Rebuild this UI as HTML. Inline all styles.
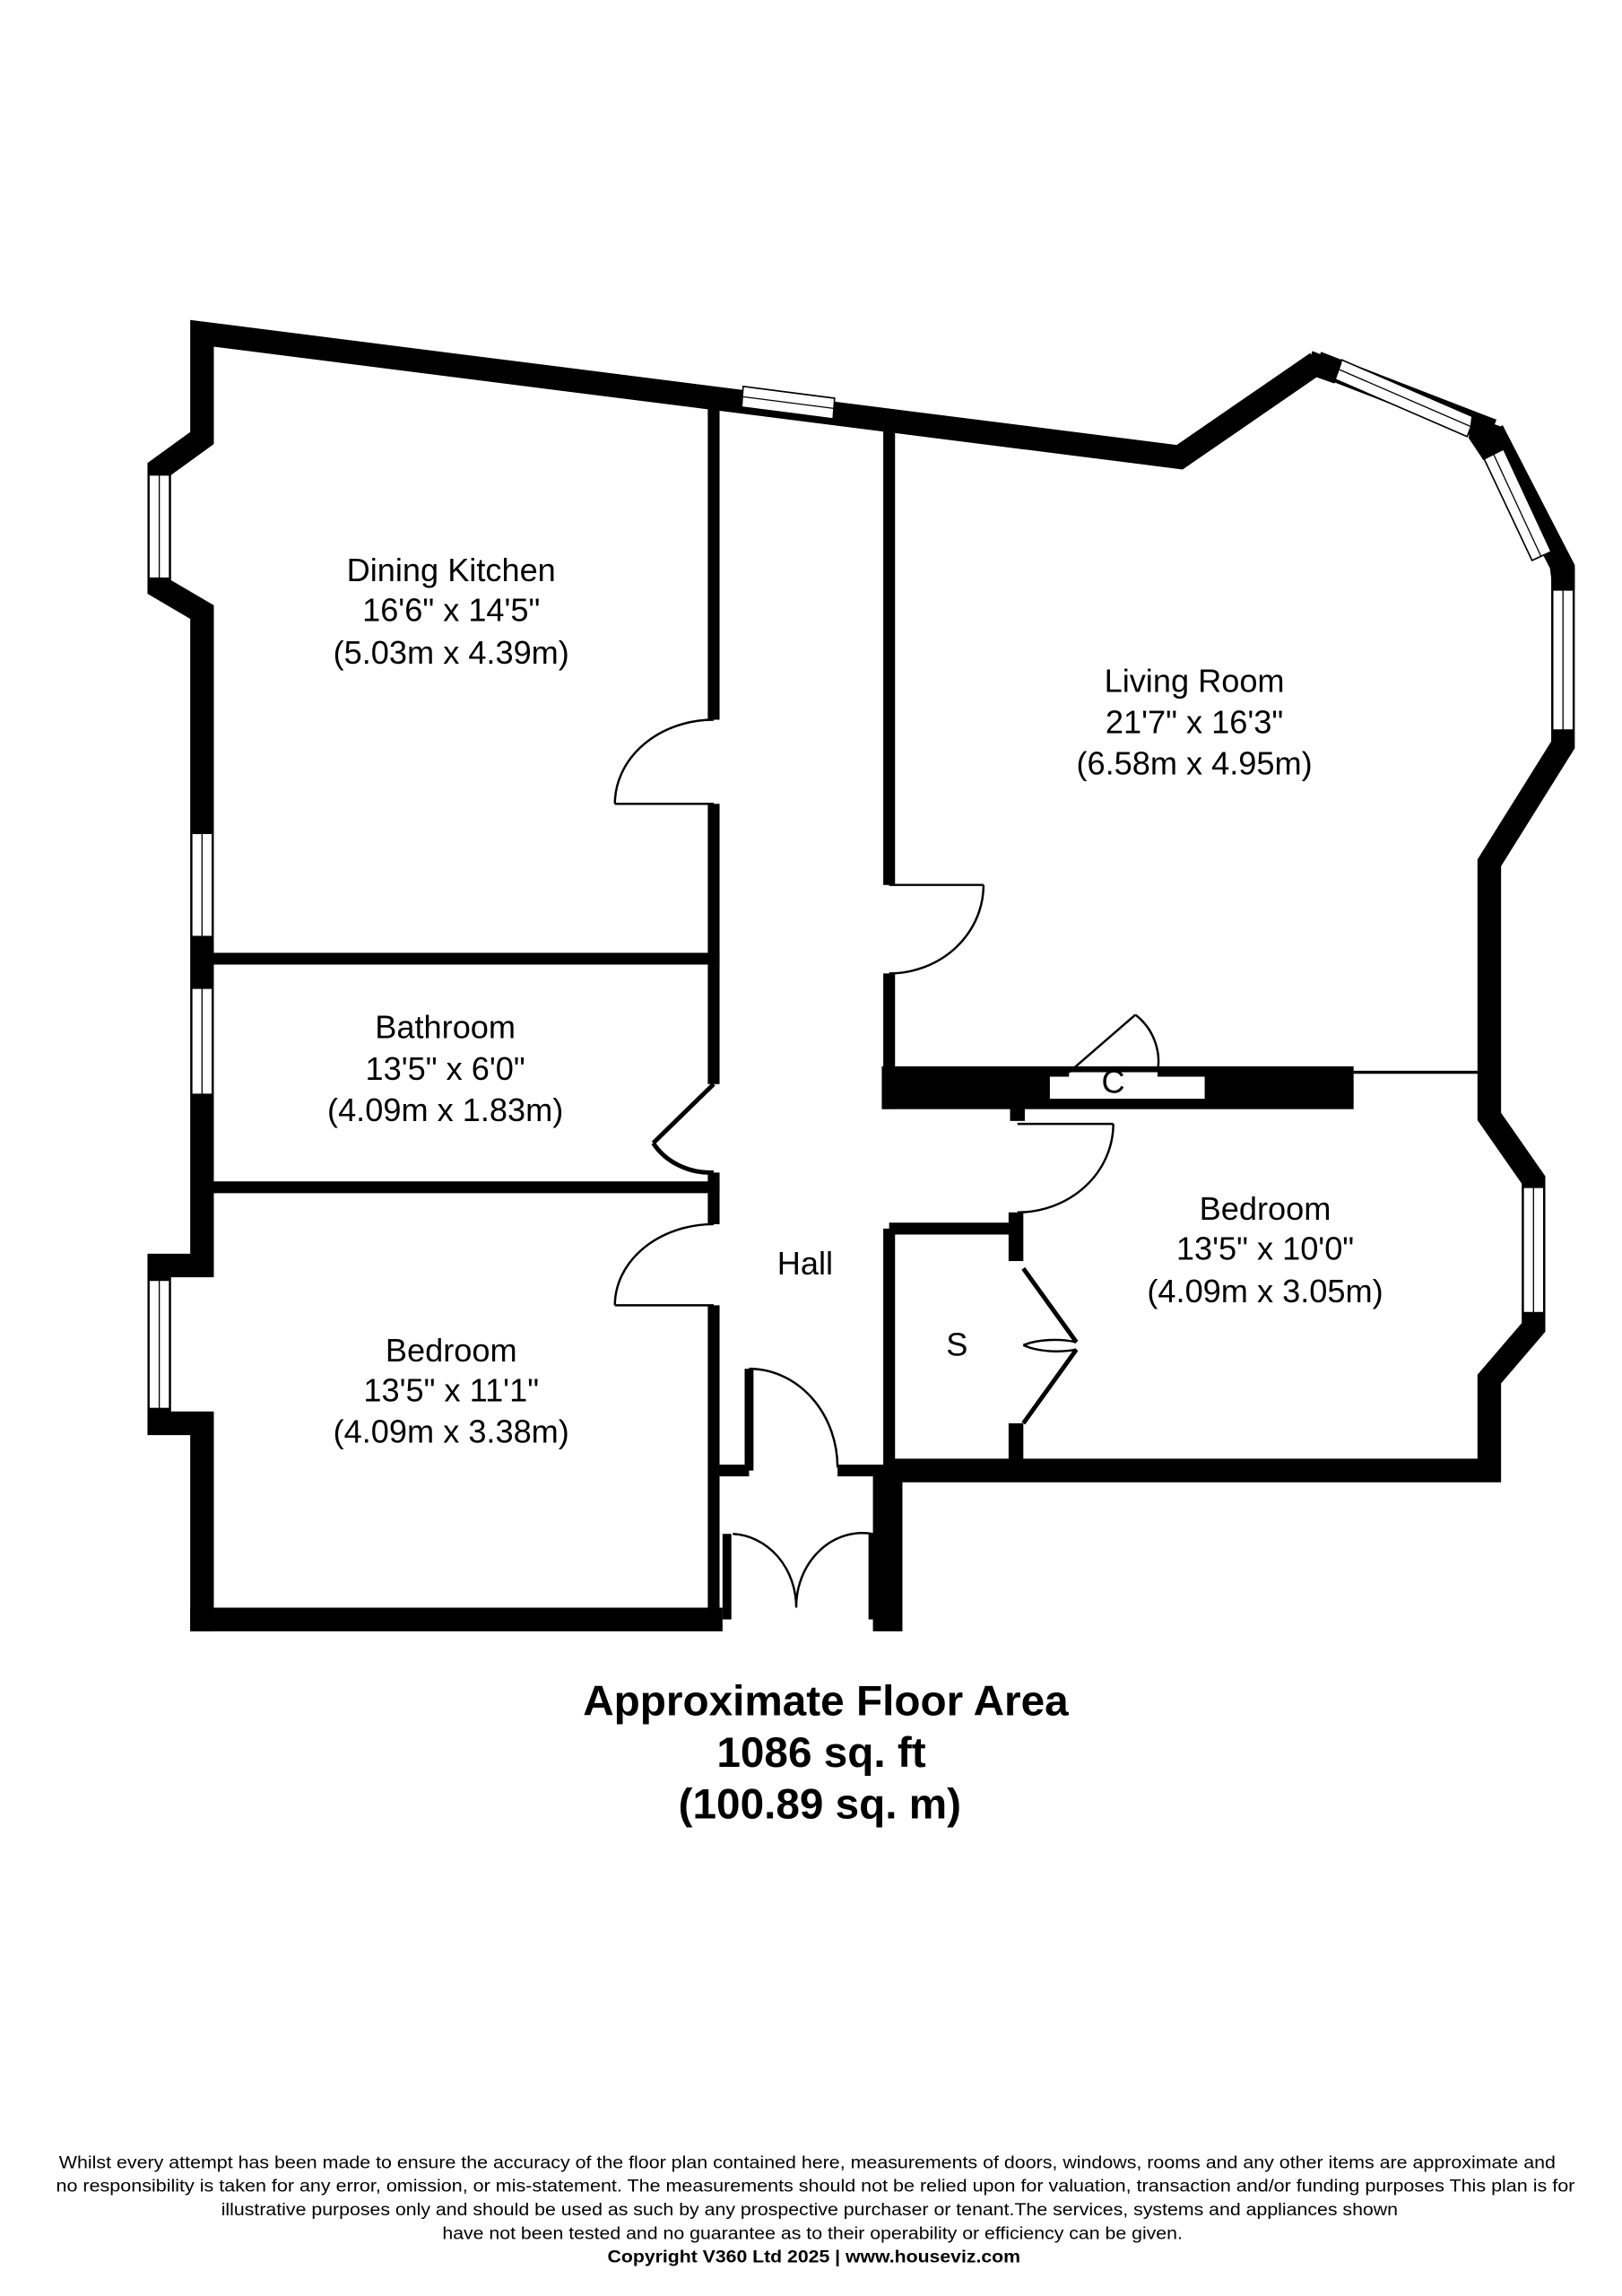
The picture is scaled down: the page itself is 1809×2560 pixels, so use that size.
<!DOCTYPE html>
<html><head><meta charset="utf-8"><style>
html,body{margin:0;padding:0;background:#fff}
svg{display:block}
text{font-family:"Liberation Sans",Arial,sans-serif;fill:#000}
</style></head><body>
<svg width="1809" height="2560" viewBox="0 0 1100 1556.7" xmlns="http://www.w3.org/2000/svg">
<g fill="none" stroke="#000" stroke-linejoin="miter" stroke-linecap="butt">
<polyline stroke-width="16" points="137,1106 137,965 108,965 108,858 137,858 137,415 108,398 108,318 137,297 137,226 800,310 893,246"/>
<polyline stroke-width="16" points="1012,292 1060,385 1060,505 1010,585 1010,757 1040,800 1040,900 1010,935 1010,997 600,997"/>
<line stroke-width="16" x1="129" y1="1098" x2="490" y2="1098"/>
<line stroke-width="20" x1="602" y1="1000" x2="602" y2="1106"/>
<polyline stroke-width="16" points="893,246 1012,292"/>
</g>
<g fill="#fff" stroke="#000" stroke-width="1">
<polygon points="504,262 566,270 565,284 503,276"/>
<rect x="101" y="322" width="14" height="70"/>
<rect x="130" y="565" width="14" height="70"/>
<rect x="130" y="670" width="14" height="72"/>
<rect x="101" y="868" width="14" height="87"/>
<rect x="1053" y="400" width="14" height="95"/>
<rect x="1033" y="805" width="14" height="85"/>
<polygon points="910,244 1000,283 995,296 905,257"/>
<polygon points="1019,303 1052,374 1039,380 1006,310"/>
</g>
<g stroke="#000" stroke-width="0.8">
<line x1="108" y1="322" x2="108" y2="392"/><line x1="137" y1="565" x2="137" y2="635"/><line x1="137" y1="670" x2="137" y2="742"/><line x1="108" y1="868" x2="108" y2="955"/><line x1="1060" y1="400" x2="1060" y2="495"/><line x1="1040" y1="805" x2="1040" y2="890"/><line x1="504" y1="269" x2="566" y2="277"/><line x1="907" y1="250" x2="997" y2="289"/><line x1="1012" y1="306" x2="1045" y2="377"/>
</g>
<g fill="#000">
<polygon points="890,238 910,246 905,260 885,253"/>
<polygon points="998,282 1020,290 1024,303 1006,312 996,297"/>
<polygon points="1050,376 1068,385 1068,400 1053,400"/>
</g>
<g stroke="#000" fill="none" stroke-linecap="butt">
<line stroke-width="8" x1="484" y1="276" x2="484" y2="488"/>
<line stroke-width="8" x1="484" y1="545" x2="484" y2="735"/>
<line stroke-width="8" x1="484" y1="795" x2="484" y2="830"/>
<line stroke-width="8" x1="484" y1="885" x2="484" y2="1098"/>
<line stroke-width="8" x1="137" y1="650" x2="488" y2="650"/>
<line stroke-width="8" x1="137" y1="805" x2="488" y2="805"/>
<line stroke-width="8" x1="603" y1="292" x2="603" y2="600"/>
<line stroke-width="8" x1="603" y1="660" x2="603" y2="752"/>
<line stroke-width="2" x1="918" y1="727" x2="1005" y2="727"/>
<line stroke-width="8" x1="603" y1="833" x2="603" y2="997"/>
<line stroke-width="8" x1="603" y1="833" x2="692" y2="833"/>
<line stroke-width="8" x1="484" y1="997" x2="508" y2="997"/>
<line stroke-width="8" x1="568" y1="997" x2="603" y2="997"/>
<line stroke-width="6" x1="508" y1="928" x2="508" y2="997"/>
<line stroke-width="6" x1="493" y1="1040" x2="493" y2="1098"/>
<line stroke-width="6" x1="592" y1="1040" x2="592" y2="1098"/>
</g>
<g fill="#000">
<rect x="598" y="723" width="320" height="29"/>
<rect x="685" y="750" width="10" height="10"/>
<rect x="684" y="822" width="10" height="33"/>
<rect x="684" y="965" width="10" height="32"/>
</g>
<polygon fill="#fff" points="712,730 725,730 725,727 785,727 785,730 817,730 817,745 712,745"/>
<g stroke="#000" fill="none" stroke-width="1.5">
<path d="M417,545 L484,545 M417,545 A67,57 0 0 1 484,488"/>
<path d="M484,735 L443,775 M443,775 A45,40 0 0 0 484,795" stroke-width="3"/>
<path d="M417,885 L484,885 M417,885 A67,55 0 0 1 484,830"/>
<path d="M603,600 L667,600 M667,600 A64,60 0 0 1 603,660"/>
<path d="M725,727 L770,688 M770,688 A40,40 0 0 1 785,727" />
<path d="M690,762 L755,762 M755,762 A65,60 0 0 1 690,822"/>
<path d="M508,928 A60,67 0 0 1 568,995"/>
<path d="M497,1040 A45,50 0 0 1 540,1090 M592,1040 A45,50 0 0 0 540,1090"/>
<path d="M694,860 L730,910 M694,965 L730,915" stroke-width="3"/>
<path d="M694,912 A30,12 0 0 1 730,910 M694,912 A30,12 0 0 0 730,915"/>
</g>
<g font-size="22" text-anchor="middle">
<text x="306" y="394">Dining Kitchen</text><text x="306" y="421">16'6" x 14'5"</text><text x="306" y="450">(5.03m x 4.39m)</text>
<text x="810" y="469">Living Room</text><text x="810" y="497">21'7" x 16'3"</text><text x="810" y="525">(6.58m x 4.95m)</text>
<text x="302" y="704">Bathroom</text><text x="302" y="732">13'5" x 6'0"</text><text x="302" y="760">(4.09m x 1.83m)</text>
<text x="306" y="923">Bedroom</text><text x="306" y="950">13'5" x 11'1"</text><text x="306" y="978">(4.09m x 3.38m)</text>
<text x="858" y="827">Bedroom</text><text x="858" y="854">13'5" x 10'0"</text><text x="858" y="883">(4.09m x 3.05m)</text>
<text x="546" y="864">Hall</text><text x="649" y="919">S</text><text x="755" y="741">C</text>
</g>
<g font-size="29" font-weight="bold" text-anchor="middle">
<text x="560" y="1163">Approximate Floor Area</text><text x="557" y="1198">1086 sq. ft</text><text x="556" y="1233">(100.89 sq. m)</text>
</g>
<g font-size="12">
<text x="40" y="1470" textLength="1015" lengthAdjust="spacingAndGlyphs">Whilst every attempt has been made to ensure the accuracy of the floor plan contained here, measurements of doors, windows, rooms and any other items are approximate and</text>
<text x="38" y="1486" textLength="1030" lengthAdjust="spacingAndGlyphs">no responsibility is taken for any error, omission, or mis-statement.  The measurements should not be relied upon for valuation, transaction and/or funding purposes This plan is for</text>
<text x="150" y="1502" textLength="798" lengthAdjust="spacingAndGlyphs">illustrative purposes only and should be used as such by any prospective purchaser or tenant.The services, systems and appliances shown</text>
<text x="300" y="1518" textLength="502" lengthAdjust="spacingAndGlyphs">have not been tested and no guarantee as to their operability or efficiency can be given.</text>
<text x="412" y="1534" font-weight="bold" textLength="280" lengthAdjust="spacingAndGlyphs">Copyright V360 Ltd 2025 | www.houseviz.com</text>
</g>
</svg>
</body></html>
